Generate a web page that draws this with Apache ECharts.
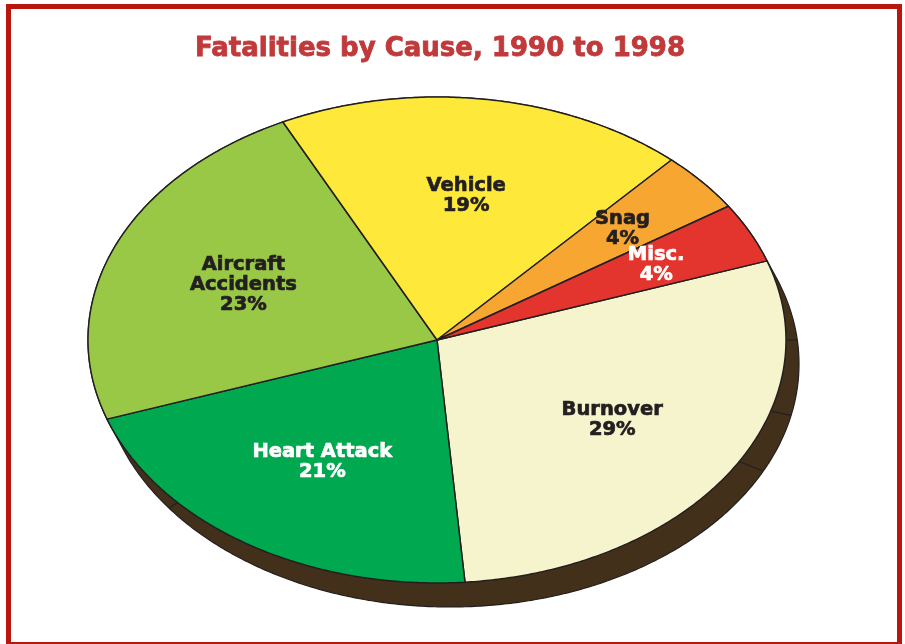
<!DOCTYPE html>
<html>
<head>
<meta charset="utf-8">
<title>Fatalities by Cause, 1990 to 1998</title>
<script src="https://cdn.jsdelivr.net/npm/echarts@6/dist/echarts.min.js"></script>
<style>
  html, body { margin: 0; padding: 0; background: #fff; }
  #chart { width: 905px; height: 644px; }
</style>
</head>
<body>
<div id="chart"></div>
<script>
// data, clockwise from the right edge
const categories = ['Burnover', 'Heart Attack', 'Aircraft\nAccidents', 'Vehicle', 'Snag', 'Misc.']
const percents = [29, 21, 23, 19, 4, 4]

const sliceColors = ['#f6f4cd', '#00a84f', '#99c846', '#fee93a', '#f6a631', '#e4342e']
const labelColors = ['#231f20', '#ffffff', '#231f20', '#231f20', '#231f20', '#ffffff']

// tilted pie geometry (top face ellipse + extrusion offset)
const CX = 437, CY = 340, RX = 349, RY = 243
const DX = 13, DY = 24
const START = 19
const EDGE = '#231f20'

function pt(deg, k) {
  const t = deg * Math.PI / 180
  return [CX + k * RX * Math.cos(t), CY - k * RY * Math.sin(t)]
}

function insideSide(q) {
  for (let s = 0; s <= 1.0001; s += 0.02) {
    const ex = (q[0] - s * DX - CX) / RX
    const ey = (q[1] - s * DY - CY) / RY
    if (ex * ex + ey * ey <= 1) return true
  }
  return false
}

let cum = 0
const sliceData = percents.map((v, i) => {
  const item = { name: categories[i], value: [v, cum] }
  cum += v
  return item
})

function renderSide(params, api) {
  const hull = []
  for (let a = 0; a < 360; a += 0.5) {
    const t = a * Math.PI / 180
    const p = pt(a, 1)
    const nd = DX * Math.cos(t) / RX - DY * Math.sin(t) / RY
    hull.push(nd > 0 ? [p[0] + DX, p[1] + DY] : p)
  }
  const children = [{
    type: 'polygon',
    shape: { points: hull },
    style: { fill: '#43301a', stroke: EDGE, lineWidth: 1.2 }
  }]
  // facet seams on the side wall
  ;[0, -17, -30, 222].forEach(a => {
    const p0 = pt(a, 1)
    let k = 1, q = p0
    while (k < 1.2 && insideSide(pt(a, k + 0.002))) { k += 0.002; q = pt(a, k) }
    children.push({
      type: 'line',
      shape: { x1: p0[0], y1: p0[1], x2: q[0], y2: q[1] },
      style: { stroke: EDGE, lineWidth: 1.2 }
    })
  })
  return { type: 'group', children }
}

function renderSlice(params, api) {
  const i = params.dataIndex
  const v = api.value(0)
  const before = api.value(1)
  const a0 = START - before / 100 * 360
  const a1 = a0 - v / 100 * 360
  const steps = Math.max(2, Math.ceil(Math.abs(a1 - a0) * 2))
  const points = [[CX, CY]]
  for (let s = 0; s <= steps; s++) {
    points.push(pt(a0 + (a1 - a0) * s / steps, 1))
  }
  const mid = (a0 + a1) / 2
  const lp = pt(mid, v < 10 ? 0.7 : 0.6)
  return {
    type: 'group',
    children: [{
      type: 'polygon',
      shape: { points },
      style: { fill: sliceColors[i], stroke: EDGE, lineWidth: 1.5, lineJoin: 'round' }
    }, {
      type: 'text',
      x: lp[0],
      y: lp[1],
      style: {
        text: categories[i] + '\n' + v + '%',
        fill: labelColors[i],
        stroke: labelColors[i],
        lineWidth: 0.7,
        font: 'bold 19.5px "DejaVu Sans"',
        lineHeight: 20,
        align: 'center',
        verticalAlign: 'middle'
      }
    }]
  }
}

const chart = echarts.init(document.getElementById('chart'))
chart.setOption({
  animation: false,
  graphic: [{
    type: 'rect',
    shape: { x: 8.5, y: 6.5, width: 891, height: 638 },
    style: { fill: 'none', stroke: '#b8160e', lineWidth: 5 },
    z: 10
  }, {
    type: 'text',
    x: 440,
    y: 49,
    style: {
      text: 'Fatalities by Cause, 1990 to 1998',
      fill: '#c0393b',
      stroke: '#c0393b',
      lineWidth: 0.8,
      font: 'bold 26px "DejaVu Sans"',
      align: 'center',
      verticalAlign: 'middle'
    }
  }],
  series: [{
    type: 'custom',
    coordinateSystem: 'none',
    silent: true,
    z: 1,
    data: [0],
    renderItem: renderSide
  }, {
    type: 'custom',
    coordinateSystem: 'none',
    z: 2,
    data: sliceData,
    renderItem: renderSlice
  }]
})
</script>
</body>
</html>
